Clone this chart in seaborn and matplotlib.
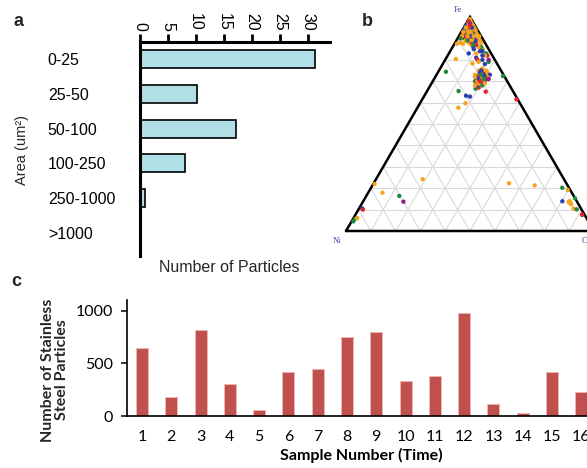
import numpy as np
import pandas as pd
import matplotlib
matplotlib.use("Agg")
import matplotlib.pyplot as plt
import seaborn as sns

# ---------------- data ----------------
# panel a
area_bins = ["0-25", "25-50", "50-100", "100-250", "250-1000", ">1000"]
particle_counts = [31.2, 10.2, 17.1, 8.1, 1.0, 0.25]
count_ticks = [0, 5, 10, 15, 20, 25, 30]

# panel c
sample_numbers = ["1", "2", "3", "4", "5", "6", "7", "8", "9", "10",
                  "11", "12", "13", "14", "15", "16"]
steel_counts = [646, 180, 817, 301, 60, 418, 443, 753, 795, 332, 380, 975,
                117, 32, 415, 231]
steel_ticks = [0, 500, 1000]

# panel b (ternary Fe / Ni / Cr, percent; Ni = 100 - Fe - Cr)
orange_fe = [99, 98, 97, 97, 96, 96, 95, 95, 95, 94, 94, 94, 93, 93, 93, 92, 92, 92,
             91, 91, 91, 91, 90, 90, 90, 89, 89, 89, 88, 88, 88, 88, 87, 86, 87.5, 87.5,
             85, 83, 82, 79, 80.4, 78.3,
             75, 74, 73, 73, 72, 72, 71, 71, 70, 70, 69, 74, 72, 75, 76, 73, 71, 69, 68,
             59.7, 57.6, 22, 17.9, 24.2, 6,
             22.3, 21.3, 19.2, 13, 13.5, 12.5, 14, 10.5]
orange_cr = [0.5, 1.2, 0.8, 2.2, 1.5, 3.2, 0.8, 2.5, 4.2, 1.5, 3.5, 5.2, 0.8, 2.8, 5.8,
             1.8, 4.5, 6.8, 1.2, 3.5, 6, 8.2, 2.5, 5, 7.5, 3.8, 6.5, 9.5, 2.2, 5.5, 8.5,
             10.5, 7, 10.5, 1, 3.5,
             12.5, 11, 15, 14, 4.1, 11.8,
             16, 18, 17, 20, 18, 21, 19, 17, 20, 18, 19, 20, 16, 19, 17, 15.5, 22, 21.5, 18,
             18.3, 16.5, 0.5, 5.8, 18.8, 1.5,
             54.6, 65.4, 79.8, 84, 83, 84.5, 83.2, 86.5]
blue_fe = [97, 95, 93, 92, 91, 90, 89, 88, 86.1, 85, 84, 94, 96,
           84, 82, 80, 78, 81, 83,
           74, 73, 72, 71, 70, 69, 68, 75, 73,
           62.8, 63.2, 10.5, 13.9]
blue_cr = [1.5, 3.3, 3.8, 5.5, 5, 6.5, 7.8, 8, 8.3, 9, 12, 0.5, 0.3,
           13, 14, 15, 17, 12, 8,
           17, 19, 20, 18, 21, 20, 19, 17, 21.5,
           18.6, 16.8, 1.3, 80.3]
red_fe = [96, 94, 93, 91, 90, 88, 87, 98, 92,
          82, 80,
          74, 72, 71, 70, 69, 67, 65.1, 73,
          61.5, 10, 7.7]
red_cr = [2, 2.5, 1.5, 2.5, 4, 6.8, 9, 0.5, 3.2,
          16, 13,
          19, 19, 21, 19, 18, 20, 23.8, 18.5,
          38, 1.8, 91.3]
green_fe = [95, 92, 90, 89, 87, 85, 93,
            83, 79, 86,
            73, 71, 70, 68, 66.5,
            74.4, 65.4, 72.4,
            16.4, 5.6, 4.5,
            20.2, 15.3, 10.1, 7.5]
green_cr = [1, 3, 1.2, 4.5, 8, 12.5, 4.5,
            15, 18, 11.5,
            18, 20, 17, 21, 19,
            3.1, 12.7, 27.1,
            13.3, 0.8, 0.7,
            77.1, 84.7, 88, 91.5]
purple_fe = [93, 86, 90, 80, 72, 71, 13.7]
purple_cr = [4, 11, 3, 17.5, 17, 22, 16.3]

# ---------------- style ----------------
sns.set_theme(style="white")
plt.rcParams["font.family"] = ["Liberation Sans", "DejaVu Sans"]

W, H = 587, 468
fig = plt.figure(figsize=(W / 100, H / 100), dpi=100)


def rect(x0, y0, x1, y1):
    return [x0 / W, 1 - y1 / H, (x1 - x0) / W, (y1 - y0) / H]


# ---------------- panel a ----------------
ax_a = fig.add_axes(rect(139.5, 42, 330, 256))
sns.barplot(x=particle_counts, y=area_bins, orient="h", color="#b0e0e6",
            edgecolor="black", linewidth=1.2, width=0.52, ax=ax_a, saturation=1)
ax_a.set_xlim(0, 33.9)
ax_a.set_ylim(5.66, -0.49)
ax_a.set_xticks(count_ticks)
ax_a.xaxis.tick_top()
ax_a.tick_params(axis="x", top=True, bottom=False, labeltop=True, labelbottom=False,
                 direction="out", length=6, width=2, color="black", pad=2,
                 labelsize=11.5, labelcolor="black")
for lab in ax_a.get_xticklabels():
    lab.set_rotation(-90)
ax_a.tick_params(axis="y", left=False, length=0, pad=66, labelsize=11.5,
                 labelcolor="black")
for lab in ax_a.get_yticklabels():
    lab.set_horizontalalignment("left")
for s in ["right", "bottom"]:
    ax_a.spines[s].set_visible(False)
for s in ["left", "top"]:
    ax_a.spines[s].set_color("black")
    ax_a.spines[s].set_linewidth(2.2)
ax_a.set_xlabel("")
ax_a.set_ylabel("")
ax_a.text(0.47, -0.02, "Number of Particles", transform=ax_a.transAxes,
          ha="center", va="top", fontsize=11.5)
fig.text(22 / W, 1 - 150 / H, "Area (um²)", rotation=90, ha="center", va="center",
         fontsize=10.5)

# ---------------- panel b ----------------
h = np.sqrt(3) / 2
ax_b = fig.add_axes(rect(346, 17, 594, 231))
ax_b.set_xlim(0, 1)
ax_b.set_ylim(0, h)
ax_b.axis("off")

for k in range(1, 10):
    t = k / 10
    ax_b.plot([t / 2, 1 - t / 2], [t * h, t * h], color="#d9d9d9", lw=0.8, zorder=1,
              clip_on=False)
    ax_b.plot([t, t + (1 - t) / 2], [0, (1 - t) * h], color="#d9d9d9", lw=0.8,
              zorder=1, clip_on=False)
    ax_b.plot([1 - t, (1 - t) / 2], [0, (1 - t) * h], color="#d9d9d9", lw=0.8,
              zorder=1, clip_on=False)
ax_b.plot([0, 1, 0.5, 0], [0, 0, h, 0], color="black", lw=1.8, zorder=2,
          clip_on=False, solid_joinstyle="miter")

groups = [("orange", orange_fe, orange_cr), ("blue", blue_fe, blue_cr),
          ("green", green_fe, green_cr), ("red", red_fe, red_cr),
          ("purple", purple_fe, purple_cr)]
rows = []
for name, fe_l, cr_l in groups:
    for fe, cr in zip(fe_l, cr_l):
        rows.append({"group": name, "fe": fe / 100, "cr": cr / 100})
tern = pd.DataFrame(rows)
tern["x"] = tern["cr"] + tern["fe"] / 2
tern["y"] = tern["fe"] * h
# interleave drawing order a little so colors mix as in the reference
tern = tern.iloc[np.argsort(np.arange(len(tern)) % 7, kind="stable")]
palette = {"orange": "#f7a21b", "blue": "#2b3fae", "green": "#1f8a3a",
           "red": "#e8202e", "purple": "#8a1f8a"}
sns.scatterplot(data=tern, x="x", y="y", hue="group", palette=palette, s=10,
                linewidth=0, legend=False, ax=ax_b, zorder=3, clip_on=False)
ax_b.set_xlim(0, 1)
ax_b.set_ylim(0, h)
lab_col = "#3b3b9e"
ax_b.text(0.452, 0.895, "Fe", ha="center", va="center", fontsize=6,
          family="Liberation Serif", color=lab_col)
ax_b.text(-0.052, -0.04, "Ni", ha="left", va="center", fontsize=6,
          family="Liberation Serif", color=lab_col)
ax_b.text(0.952, -0.04, "Cr", ha="left", va="center", fontsize=6,
          family="Liberation Serif", color=lab_col)

# ---------------- panel c ----------------
ax_c = fig.add_axes(rect(126.7, 300, 596, 416))
sns.barplot(x=sample_numbers, y=steel_counts, color="#c0504d", edgecolor="#f0b4b2",
            linewidth=0.7, width=0.41, ax=ax_c, saturation=1)
ax_c.set_xlim(-0.52, 15.5)
ax_c.set_ylim(0, 1100)
ax_c.set_yticks(steel_ticks)
for s in ["top", "right"]:
    ax_c.spines[s].set_visible(False)
for s in ["left", "bottom"]:
    ax_c.spines[s].set_color("black")
    ax_c.spines[s].set_linewidth(1.2)
ax_c.tick_params(axis="y", left=True, direction="out", length=4, width=1.1,
                 color="black", pad=6, labelsize=11.5, labelcolor="black")
ax_c.tick_params(axis="x", bottom=False, length=0, pad=10, labelsize=11.5,
                 labelcolor="black")
for lab in ax_c.get_xticklabels() + ax_c.get_yticklabels():
    lab.set_family(["Lato", "DejaVu Sans"])
ax_c.set_ylabel("")
ax_c.set_xlabel("Sample Number (Time)", fontsize=11.5, fontweight="bold",
                family=["Lato", "DejaVu Sans"], labelpad=3, color="black")
fig.text(55 / W, 1 - 370 / H, "Number of Stainless\nSteel Particles", rotation=90,
         ha="center", va="center", fontsize=11.5, fontweight="bold", linespacing=1.0,
         family=["Lato", "DejaVu Sans"])

# ---------------- panel letters ----------------
fig.text(18 / W, 1 - 22 / H, "a", fontsize=13, fontweight="bold", ha="center",
         va="center")
fig.text(367 / W, 1 - 22 / H, "b", fontsize=13, fontweight="bold", ha="center",
         va="center")
fig.text(16 / W, 1 - 281 / H, "c", fontsize=13, fontweight="bold", ha="center",
         va="center")

fig.savefig("out.png", dpi=100)
